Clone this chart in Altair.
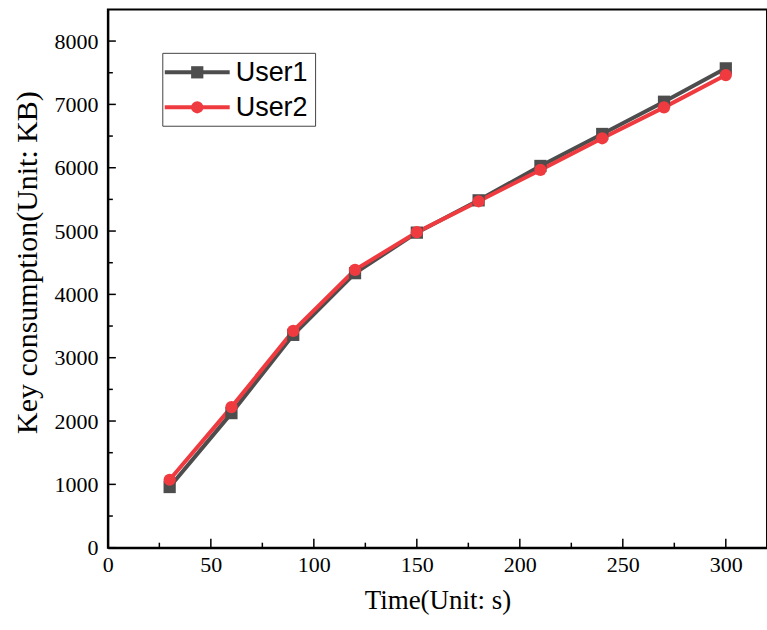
import altair as alt
import pandas as pd

time_s = [30, 60, 90, 120, 150, 180, 210, 240, 270, 300]
user1 = [958, 2125, 3361, 4335, 4975, 5485, 6028, 6533, 7042, 7569]
user2 = [1073, 2220, 3424, 4387, 4982, 5470, 5965, 6465, 6953, 7463]
series_names = ["User1", "User2"]
series_colors = ["#4d4d4d", "#ef3b40"]
series_shapes = ["square", "circle"]

x_major = [0, 50, 100, 150, 200, 250, 300]
x_minor = [25, 75, 125, 175, 225, 275]
y_major = [0, 1000, 2000, 3000, 4000, 5000, 6000, 7000, 8000]
y_minor = [500, 1500, 2500, 3500, 4500, 5500, 6500, 7500]

rows = []
for t, a, b in zip(time_s, user1, user2):
    rows.append({"time": t, "value": a, "series": "User1"})
    rows.append({"time": t, "value": b, "series": "User2"})
df = pd.DataFrame(rows)

W, H = 660, 539
xscale = alt.Scale(domain=[0, 320], nice=False, zero=False)
yscale = alt.Scale(domain=[0, 8500], nice=False, zero=False)
x_axis = alt.Axis(values=x_major, title="Time(Unit: s)", format="d", ticks=False, grid=False,
                  labelPadding=7, titlePadding=12, labelFlush=False)
y_axis = alt.Axis(values=y_major, title="Key consumption(Unit: KB)", format="d", ticks=False, grid=False,
                  labelPadding=10, titlePadding=11, labelFlush=False, titleFontSize=30, titleY=253)

color = alt.Color("series:N", scale=alt.Scale(domain=series_names, range=series_colors), legend=None)
shape = alt.Shape("series:N", scale=alt.Scale(domain=series_names, range=series_shapes), legend=None)

lines = alt.Chart(df).mark_line(strokeWidth=4).encode(
    x=alt.X("time:Q", scale=xscale, axis=x_axis),
    y=alt.Y("value:Q", scale=yscale, axis=y_axis),
    color=color,
    detail="series:N",
)
points = alt.Chart(df).mark_point(filled=True, opacity=1, size=150).encode(
    x=alt.X("time:Q", scale=xscale, axis=x_axis),
    y=alt.Y("value:Q", scale=yscale, axis=y_axis),
    color=color,
    shape=shape,
)

def yticks(vals, length):
    d = pd.DataFrame({"value": vals})
    return alt.Chart(d).mark_rule(color="black", strokeWidth=1.5).encode(
        y=alt.Y("value:Q", scale=yscale, axis=y_axis),
        x=alt.value(0), x2=alt.value(length))

def xticks(vals, length):
    d = pd.DataFrame({"time": vals})
    return alt.Chart(d).mark_rule(color="black", strokeWidth=1.5).encode(
        x=alt.X("time:Q", scale=xscale, axis=x_axis),
        y=alt.value(H), y2=alt.value(H - length))

# legend box (manual)
one = pd.DataFrame({"k": [0]})
legend_box = alt.Chart(one).mark_rect(fill="white", stroke="#444444", strokeWidth=1).encode(
    x=alt.value(55), x2=alt.value(208), y=alt.value(44), y2=alt.value(117))
leg_layers = [legend_box]
for i, (name, col, shp) in enumerate(zip(series_names, series_colors, series_shapes)):
    yy = 63 + 35 * i
    leg_layers.append(alt.Chart(one).mark_rule(color=col, strokeWidth=4).encode(
        x=alt.value(57), x2=alt.value(122), y=alt.value(yy)))
    leg_layers.append(alt.Chart(one).mark_point(filled=True, opacity=1, size=150, shape=shp, color=col).encode(
        x=alt.value(89.5), y=alt.value(yy)))
    leg_layers.append(alt.Chart(one).mark_text(text=name, align="left", baseline="middle",
                                              font="Liberation Sans", fontSize=27, color="black").encode(
        x=alt.value(128), y=alt.value(yy + 1)))

chart = alt.layer(
    lines, points,
    yticks(y_major, 8), yticks(y_minor, 5),
    xticks(x_major, 9), xticks(x_minor, 5),
    *leg_layers,
).properties(
    width=W, height=H,
    background="white",
    autosize=alt.AutoSizeParams(type="none"),
    padding={"left": 108, "top": 9, "right": 0, "bottom": 82},
).configure_view(stroke="black", strokeWidth=2).configure_axis(
    labelFont="Liberation Serif", labelFontSize=22, labelColor="black",
    titleFont="Liberation Serif", titleFontSize=27, titleFontWeight="normal", titleColor="black",
    domainColor="black", domainWidth=2,
)

chart.save("out.html", embed_options={"renderer": "svg", "actions": False})
